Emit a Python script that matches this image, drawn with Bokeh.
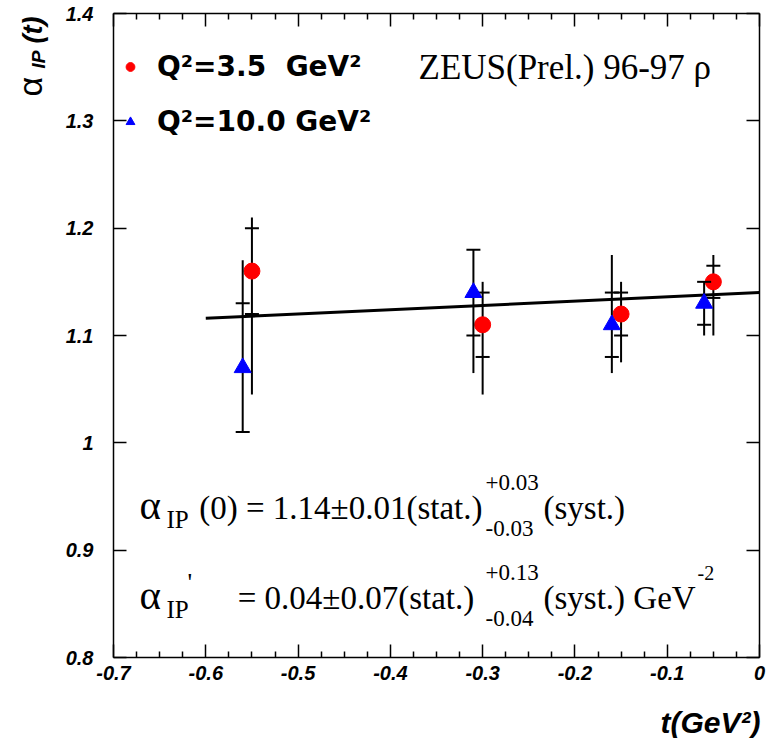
import numpy as np
from bokeh.plotting import figure
from bokeh.models import (Label, LinearAxis, Range1d, FixedTicker, Legend,
                          LegendItem, CustomJSTickFormatter, ColumnDataSource)
from bokeh.embed import file_html
from bokeh.resources import INLINE

# Pomeron trajectory alpha_IP(t) from rho electroproduction, ZEUS 96-97 (prelim.)
# Q^2 = 3.5 GeV^2 sample
q35_t = [-0.55, -0.30, -0.15, -0.05]
q35_alpha = [1.16, 1.11, 1.12, 1.15]
q35_stat = [0.04, 0.03, 0.02, 0.015]
q35_tot_up = [0.05, 0.04, 0.03, 0.025]
q35_tot_dn = [0.115, 0.065, 0.045, 0.05]

# Q^2 = 10.0 GeV^2 sample
q10_t = [-0.56, -0.31, -0.16, -0.06]
q10_alpha = [1.07, 1.14, 1.11, 1.13]
q10_stat = [0.06, 0.04, 0.03, 0.02]
q10_tot_up = [0.10, 0.04, 0.065, 0.02]
q10_tot_dn = [0.06, 0.075, 0.045, 0.03]

# linear trajectory fit alpha(t) = alpha(0) + alpha' t
fit_alpha0 = 1.14
fit_slope = 0.04
fit_t = [-0.6, 0.0]

x_ticks = [-0.7, -0.6, -0.5, -0.4, -0.3, -0.2, -0.1, 0.0]
y_ticks = [0.8, 0.9, 1.0, 1.1, 1.2, 1.3, 1.4]
T_MIN, T_MAX = -0.7, 0.0
A_MIN, A_MAX = 0.8, 1.4

# page size and where the axis box sits on it (pixels)
W, H = 773, 738
BOX_L, BOX_R, BOX_T, BOX_B = 113, 759, 13, 657


def dx(px):
    return T_MIN + (px - BOX_L) / (BOX_R - BOX_L) * (T_MAX - T_MIN)


def dy(py):
    return A_MAX - (py - BOX_T) / (BOX_B - BOX_T) * (A_MAX - A_MIN)


# the plotting area spans the whole page; the axes are pinned to the box
p = figure(width=W, height=H, output_backend="svg", toolbar_location=None,
           x_range=Range1d(dx(0), dx(W)), y_range=Range1d(dy(H), dy(0)),
           x_axis_location=None, y_axis_location=None,
           min_border=0, min_border_left=0, min_border_right=0,
           min_border_top=0, min_border_bottom=0)
p.grid.visible = False
p.outline_line_color = None
p.background_fill_color = "white"
p.border_fill_color = "white"

minor_x = [v for v in np.round(np.arange(T_MIN, T_MAX + 1e-4, 0.025), 3)
           if abs(v * 10 - round(v * 10)) > 1e-6]
fmt = CustomJSTickFormatter(code="return tick.toFixed(1).replace(/\\.0$/, '');")
blank = CustomJSTickFormatter(code="return '';")

bottom_ax = LinearAxis(fixed_location=A_MIN, bounds=(T_MIN, T_MAX))
top_ax = LinearAxis(fixed_location=A_MAX, bounds=(T_MIN, T_MAX))
left_ax = LinearAxis(fixed_location=T_MIN, bounds=(A_MIN, A_MAX))
right_ax = LinearAxis(fixed_location=T_MAX, bounds=(A_MIN, A_MAX))
p.add_layout(bottom_ax, "below")
p.add_layout(top_ax, "above")
p.add_layout(left_ax, "left")
p.add_layout(right_ax, "right")

for ax in [bottom_ax, top_ax]:
    ax.ticker = FixedTicker(ticks=x_ticks, minor_ticks=minor_x)
    ax.minor_tick_in = 6
for ax in [left_ax, right_ax]:
    ax.ticker = FixedTicker(ticks=y_ticks, minor_ticks=[])
    ax.minor_tick_in = 0
for ax in [bottom_ax, top_ax, left_ax, right_ax]:
    ax.major_tick_in = 13
    ax.major_tick_out = 0
    ax.minor_tick_out = 0
    ax.axis_line_width = 1.5
    ax.axis_line_color = "black"
    ax.major_tick_line_width = 1.5
    ax.minor_tick_line_width = 1.5
    ax.major_tick_line_color = "black"
    ax.minor_tick_line_color = "black"
    ax.formatter = fmt
    ax.major_label_text_font = "Liberation Sans"
    ax.major_label_text_font_style = "bold italic"
    ax.major_label_text_font_size = "20px"
    ax.major_label_text_color = "black"
# mirrored axes carry ticks only
for ax in [top_ax, right_ax]:
    ax.formatter = blank
    ax.major_label_standoff = 0
bottom_ax.major_label_standoff = 8
left_ax.major_label_standoff = 20

# fitted trajectory
fit_y = [fit_alpha0 + fit_slope * t for t in fit_t]
p.line(fit_t, fit_y, line_width=3, line_color="black")


def series(t, a, stat, up, dn, marker, color, size):
    src = ColumnDataSource(dict(
        t=t, a=a,
        lo=[v - d for v, d in zip(a, dn)],
        hi=[v + u for v, u in zip(a, up)],
        slo=[v - s for v, s in zip(a, stat)],
        shi=[v + s for v, s in zip(a, stat)],
    ))
    p.segment(x0="t", y0="lo", x1="t", y1="hi", source=src,
              line_width=2, line_color="black")
    p.scatter(x="t", y="slo", source=src, marker="dash", size=14,
              line_width=2, line_color="black")
    p.scatter(x="t", y="shi", source=src, marker="dash", size=14,
              line_width=2, line_color="black")
    return p.scatter(x="t", y="a", source=src, marker=marker, size=size,
                     fill_color=color, line_color=color)


r35 = series(q35_t, q35_alpha, q35_stat, q35_tot_up, q35_tot_dn,
             "circle", "#ff0000", 16)
r10 = series(q10_t, q10_alpha, q10_stat, q10_tot_up, q10_tot_dn,
             "triangle", "#0000ff", 17)

legend = Legend(items=[LegendItem(label="Q²=3.5  GeV²", renderers=[r35]),
                       LegendItem(label="Q²=10.0 GeV²", renderers=[r10])],
                location=(119, 600), orientation="vertical",
                padding=0, margin=0, spacing=22,
                glyph_width=22, glyph_height=33, label_height=33,
                label_standoff=16,
                label_text_font="DejaVu Sans", label_text_font_style="bold",
                label_text_font_size="28px", label_text_color="black",
                border_line_color=None, background_fill_alpha=0)
p.add_layout(legend)

BASE_SHIFT = 0.37  # baseline correction, in font sizes


def put(text, px, py, size, font="Liberation Serif", style="normal",
        vertical=False, align="left"):
    if vertical:
        x, y, ang = px - BASE_SHIFT * size, py, np.pi / 2
    else:
        x, y, ang = px, py - BASE_SHIFT * size, 0.0
    p.add_layout(Label(x=dx(x), y=dy(y), text=text, text_font=font,
                       text_font_size=f"{size}px", text_font_style=style,
                       angle=ang, text_align=align,
                       text_baseline="alphabetic", text_color="black"))


# experiment tag
put("ZEUS(Prel.) 96-97 ρ", 418, 80, 35)

# intercept result
put("α", 139, 520, 41)
put("IP", 166, 528, 25)
put("(0) = 1.14±0.01(stat.)", 482, 520, 33, align="right")
put("+0.03", 485, 491, 23)
put("-0.03", 485, 537, 23)
put("(syst.)", 543, 520, 33)

# slope result
put("α", 139, 610, 41)
put("'", 187, 592, 26)
put("IP", 166, 618, 25)
put(" = 0.04±0.07(stat.)", 482, 610, 33, align="right")
put("+0.13", 485, 581, 23)
put("-0.04", 485, 627, 23)
put("(syst.) GeV", 543, 610, 33)
put("-2", 697, 580, 20)

# axis titles
put("t(GeV²)", 760, 733, 30, font="Liberation Sans", style="bold italic",
    align="right")
put("α", 42, 96, 34, font="Liberation Sans", vertical=True)
put("IP", 45, 68, 19, font="Liberation Sans", style="bold italic",
    vertical=True)
put("(t)", 42, 43, 27, font="Liberation Sans", style="bold italic",
    vertical=True)

open("out.html", "w").write(file_html(p, INLINE))
